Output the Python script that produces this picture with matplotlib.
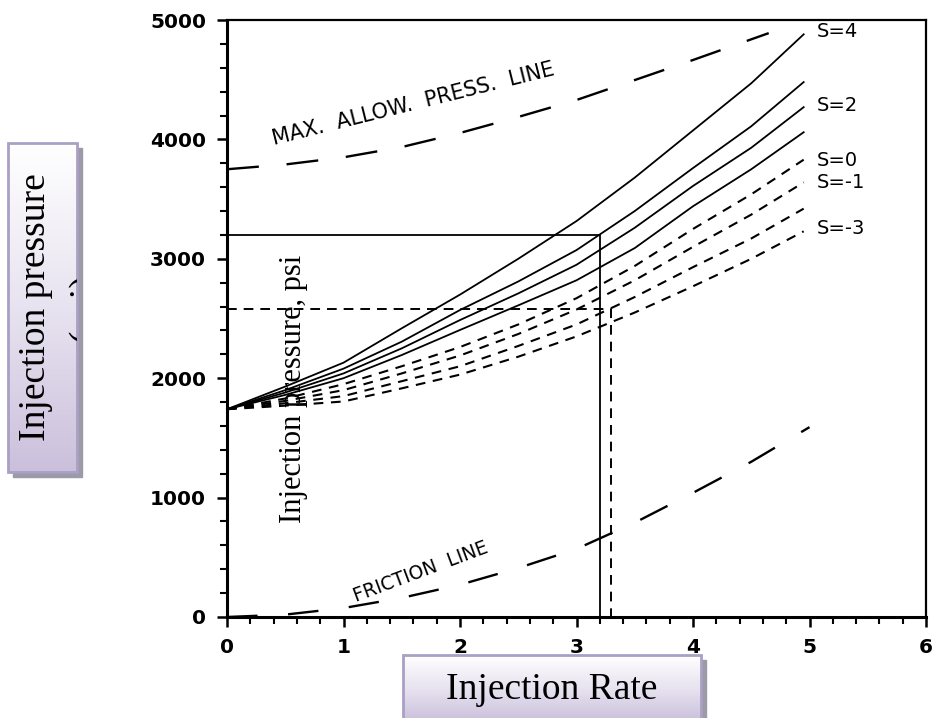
import matplotlib
matplotlib.use("Agg")
import matplotlib.pyplot as plt
import numpy as np
from matplotlib.patches import Rectangle
from matplotlib.ticker import MultipleLocator

plt.rcParams['lines.scale_dashes'] = False

rate = [0, 0.5, 1, 1.5, 2, 2.5, 3, 3.5, 4, 4.5, 4.95]

# injection pressure (psi) per skin factor
p_s4 = [1740, 1930, 2130, 2418, 2700, 3000, 3316, 3680, 4075, 4470, 4880]
p_s3 = [1740, 1900, 2080, 2306, 2571, 2810, 3073, 3400, 3760, 4110, 4480]
p_s2 = [1740, 1880, 2040, 2250, 2487, 2710, 2950, 3260, 3610, 3930, 4270]
p_s1 = [1740, 1860, 2000, 2194, 2404, 2610, 2820, 3090, 3440, 3750, 4060]
p_s0 = [1740, 1830, 1950, 2100, 2261, 2450, 2670, 2940, 3250, 3540, 3830]
p_sm1 = [1740, 1810, 1900, 2040, 2190, 2370, 2575, 2820, 3100, 3370, 3640]
p_sm2 = [1740, 1790, 1850, 1975, 2100, 2270, 2450, 2680, 2930, 3170, 3420]
p_sm3 = [1740, 1770, 1805, 1915, 2030, 2180, 2350, 2550, 2770, 3000, 3230]

solid_curves = [p_s4, p_s3, p_s2, p_s1]
dashed_curves = [p_s0, p_sm1, p_sm2, p_sm3]

skin_labels = ['S=4', 'S=2', 'S=0', 'S=-1', 'S=-3']
skin_label_press = [4900, 4288, 3820, 3635, 3250]

# maximum allowable pressure line
max_rate = [0, 0.5, 1, 1.5, 2, 2.5, 3, 3.5, 4, 4.65]
max_press = [3750, 3790, 3850, 3936, 4054, 4188, 4330, 4497, 4665, 4890]

# friction line
fric_rate = [0, 0.5, 1, 1.5, 2, 2.5, 3, 3.5, 4, 4.5, 5]
fric_press = [0, 20, 75, 160, 270, 410, 570, 790, 1040, 1300, 1590]

# design rate / pressure boxes
solid_box = (3.2, 3200)
dashed_box = (3.3, 2580)

fig = plt.figure(figsize=(9.33, 7.18), dpi=100)
ax = fig.add_axes([227 / 933, 1 - 617 / 718, 699 / 933, 597 / 718])

for p in solid_curves:
    ax.plot(rate, p, color='black', lw=1.3)
for p in dashed_curves:
    ax.plot(rate, p, color='black', lw=1.5, linestyle=(0, (7, 5.5)))

ax.plot(max_rate, max_press, color='black', lw=1.7, linestyle=(0, (23, 20)))
ax.plot(fric_rate, fric_press, color='black', lw=1.7, linestyle=(0, (22, 22)))

bx, by = solid_box
ax.plot([0, bx, bx], [by, by, 0], color='black', lw=1.3)
dx, dy = dashed_box
ax.plot([0, dx, dx], [dy, dy, 0], color='black', lw=1.4, linestyle=(0, (7, 5)))

for lab, yv in zip(skin_labels, skin_label_press):
    ax.text(5.06, yv, lab, fontsize=14, ha='left', va='center')

ax.text(1.6, 4296, 'MAX.  ALLOW.  PRESS.  LINE', fontsize=15, rotation=14,
        ha='center', va='center', rotation_mode='anchor')
ax.text(1.66, 378, 'FRICTION  LINE', fontsize=13.5, rotation=20.5,
        ha='center', va='center', rotation_mode='anchor')

ax.set_xlim(0, 6)
ax.set_ylim(0, 5000)
ax.xaxis.set_major_locator(MultipleLocator(1))
ax.xaxis.set_minor_locator(MultipleLocator(0.2))
ax.yaxis.set_major_locator(MultipleLocator(1000))
ax.yaxis.set_minor_locator(MultipleLocator(200))
ax.tick_params(which='major', direction='out', length=7, width=1.8, pad=8,
               labelsize=14.5)
ax.tick_params(which='minor', direction='out', length=5, width=1.5)
for lbl in ax.get_xticklabels() + ax.get_yticklabels():
    lbl.set_fontweight('bold')
for side in ['left', 'bottom']:
    ax.spines[side].set_linewidth(2.2)
for side in ['top', 'right']:
    ax.spines[side].set_linewidth(1.6)

fig.text(293 / 933, 1 - 389 / 718, 'Injection pressure, psi', rotation=90,
         ha='center', va='center', fontsize=22, family='Liberation Serif',
         zorder=10)

# gradient label boxes
grad = np.linspace(0, 1, 256).reshape(-1, 1)
cmap = matplotlib.colors.LinearSegmentedColormap.from_list(
    'lav', ['#ffffff', '#e8e3f0', '#cbc0dc'])


def label_box(left, top, width, height):
    l, b = left / 933, 1 - (top + height) / 718
    w, h = width / 933, height / 718
    fig.add_artist(Rectangle((l + 5 / 933, b - 5 / 718), w, h,
                             transform=fig.transFigure, color='#9c9aa8',
                             zorder=-1))
    bax = fig.add_axes([l, b, w, h])
    bax.imshow(grad, cmap=cmap, aspect='auto', extent=[0, 1, 0, 1])
    bax.set_axis_off()
    bax.add_patch(Rectangle((0, 0), 1, 1, transform=bax.transAxes,
                            fill=False, edgecolor='#aa9fc4', lw=2,
                            clip_on=False))
    return bax


lbox = label_box(8, 143, 69, 329)
lbox.text(0.40, 0.5, 'Injection pressure', rotation=90, ha='center',
          va='center', fontsize=27, family='Liberation Serif',
          transform=lbox.transAxes)
lbox.text(0.86, 0.50, '(psi)', rotation=90, ha='left', va='center',
          fontsize=27, family='Liberation Serif', transform=lbox.transAxes,
          clip_on=True)

bbox_ax = label_box(403, 655, 298, 66)
bbox_ax.text(0.5, 0.47, 'Injection Rate', ha='center', va='center',
             fontsize=27, family='Liberation Serif',
             transform=bbox_ax.transAxes)

fig.savefig('out.png', dpi=100)
